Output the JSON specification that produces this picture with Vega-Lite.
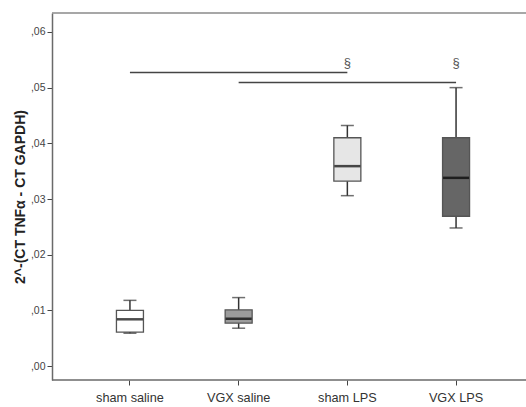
{
  "$schema": "https://vega.github.io/schema/vega-lite/v6.json",
  "autosize": "none",
  "width": 474,
  "height": 367,
  "padding": {"left": 52, "top": 13, "right": 0, "bottom": 27},
  "background": "white",
  "config": {
    "view": {"stroke": null},
    "font": "Liberation Sans"
  },
  "datasets": {
    "boxes": [
      {"group": "sham saline", "lower": 0.0059, "q1": 0.0061, "median": 0.0084, "q3": 0.0100, "upper": 0.0118},
      {"group": "VGX saline", "lower": 0.0068, "q1": 0.0077, "median": 0.0085, "q3": 0.0101, "upper": 0.0123},
      {"group": "sham LPS", "lower": 0.0306, "q1": 0.0332, "median": 0.0359, "q3": 0.0410, "upper": 0.0432},
      {"group": "VGX LPS", "lower": 0.0248, "q1": 0.0269, "median": 0.0338, "q3": 0.0410, "upper": 0.0500}
    ],
    "sig": [
      {"from": "sham saline", "to": "sham LPS", "y": 0.0527, "label": "§", "ly": 0.0545},
      {"from": "VGX saline", "to": "VGX LPS", "y": 0.0509, "label": "§", "ly": 0.0545}
    ],
    "frame": [{"top": 0.0634, "bottom": -0.0025}]
  },
  "layer": [
    {
      "data": {"name": "frame"},
      "mark": {"type": "rule", "color": "#8a8a8a", "strokeWidth": 1.5},
      "encoding": {"y": {"field": "top", "type": "quantitative"}}
    },
    {
      "data": {"name": "frame"},
      "mark": {"type": "rule", "color": "#6a6a6a", "strokeWidth": 1.5},
      "encoding": {"y": {"field": "bottom", "type": "quantitative"}}
    },
    {
      "data": {"name": "boxes"},
      "mark": {"type": "rule", "color": "#333333", "strokeWidth": 1.5},
      "encoding": {
        "x": {"field": "group", "type": "nominal", "sort": null,
          "scale": {"range": [0, 482], "paddingInner": 0, "paddingOuter": 0.217},
          "axis": {"title": null, "labelAngle": 0, "labelFontSize": 12.7, "labelColor": "#333333", "labelPadding": 6, "tickColor": "#444444", "tickSize": 5, "domain": false}
        },
        "y": {"field": "lower", "type": "quantitative",
          "scale": {"domain": [-0.0025, 0.0634], "nice": false, "zero": false},
          "axis": {"title": "2^-(CT TNFα - CT GAPDH)", "titleFontSize": 14, "titleFontWeight": "bold", "titleColor": "#222222", "titlePadding": 3,
            "values": [0, 0.01, 0.02, 0.03, 0.04, 0.05, 0.06],
            "labelExpr": "replace(format(datum.value, '.2f'), '0.', ',')",
            "labelFontSize": 10.5, "labelColor": "#444444", "tickColor": "#444444", "tickSize": 5, "grid": false, "domain": true, "domainColor": "#6a6a6a", "domainWidth": 1.5}
        },
        "y2": {"field": "upper"}
      }
    },
    {
      "data": {"name": "boxes"},
      "mark": {"type": "bar", "size": 27, "stroke": "#555555", "strokeWidth": 1.3},
      "encoding": {
        "x": {"field": "group", "type": "nominal", "sort": null},
        "y": {"field": "q1", "type": "quantitative"},
        "y2": {"field": "q3"},
        "fill": {"field": "group", "type": "nominal", "sort": null,
          "scale": {"domain": ["sham saline", "VGX saline", "sham LPS", "VGX LPS"], "range": ["#ffffff", "#9c9c9c", "#e6e6e6", "#666666"]},
          "legend": null}
      }
    },
    {
      "data": {"name": "boxes"},
      "mark": {"type": "tick", "color": "#000000", "size": 26, "thickness": 2.5, "orient": "horizontal"},
      "encoding": {
        "x": {"field": "group", "type": "nominal", "sort": null},
        "y": {"field": "median", "type": "quantitative"}
      }
    },
    {
      "data": {"name": "boxes"},
      "mark": {"type": "tick", "color": "#333333", "size": 13, "thickness": 1.5, "orient": "horizontal"},
      "encoding": {
        "x": {"field": "group", "type": "nominal", "sort": null},
        "y": {"field": "upper", "type": "quantitative"}
      }
    },
    {
      "data": {"name": "boxes"},
      "mark": {"type": "tick", "color": "#333333", "size": 13, "thickness": 1.5, "orient": "horizontal"},
      "encoding": {
        "x": {"field": "group", "type": "nominal", "sort": null},
        "y": {"field": "lower", "type": "quantitative"}
      }
    },
    {
      "data": {"name": "sig"},
      "mark": {"type": "rule", "color": "#444444", "strokeWidth": 1.5},
      "encoding": {
        "x": {"field": "from", "type": "nominal", "sort": null},
        "x2": {"field": "to"},
        "y": {"field": "y", "type": "quantitative"}
      }
    },
    {
      "data": {"name": "sig"},
      "mark": {"type": "text", "fontSize": 13, "color": "#555555", "baseline": "middle"},
      "encoding": {
        "x": {"field": "to", "type": "nominal", "sort": null},
        "y": {"field": "ly", "type": "quantitative"},
        "text": {"field": "label"}
      }
    }
  ]
}
